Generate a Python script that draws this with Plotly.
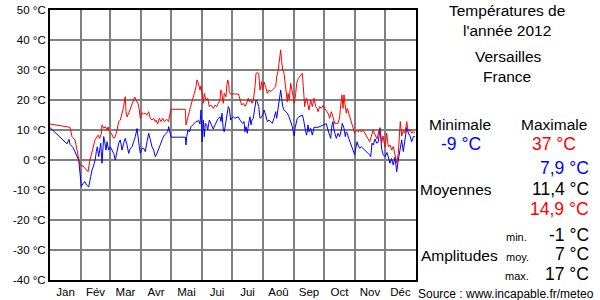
import plotly.graph_objects as go
import pandas as pd

# ---- data (day offset from 1 Jan 2012, temperature °C) ----
min_days = [0, 17, 19, 20, 23, 26, 28.7, 30, 31.3, 33, 35, 36.5, 38.7, 40.7, 42, 43.5, 45.3, 46.3, 47.3, 48.7,
            49.7, 50.7, 52, 53, 53.7, 54.7, 56, 57, 58.7, 60.3, 62, 63.7, 65.3, 67, 68.7, 70.3, 72, 73.7, 75.3, 77,
            78.7, 80.3, 82, 83.7, 85.3, 87, 88, 89.3, 90.3, 92, 93.7, 95.3, 97, 98.7, 100.3, 102, 103.7, 105.3, 107,
            109.3, 111, 112.7, 114.3, 116, 117.7, 118.7, 119.3, 121, 135.3, 136, 136.7, 138, 139.3, 141, 144.3, 146,
            148.7, 150, 151, 152, 152.7, 153.3, 154.3, 155.3, 156.7, 157.7, 159.3, 161, 163.3, 165, 166.7, 168.3,
            170, 171, 172, 173.3, 174.3, 175.3, 176.7, 178.3, 179.3, 180.7, 181.7, 183.3, 185, 186.7, 188.3, 190,
            191.7, 192.7, 194, 195, 196, 197.3, 198.7, 200, 201, 202, 203.3, 204.3, 206, 207.3, 208.7, 210, 211.7,
            213.3, 214, 215.7, 217.3, 219, 220.7, 222.3, 224, 225.7, 226.7, 228, 229, 230, 230.7, 231.7, 232.7, 234,
            235.7, 237.3, 239, 240.7, 242.3, 243.3, 244.3, 245, 246, 247.3, 249, 250.7, 252.3, 253.3, 254.3, 255.7,
            256.7, 258, 259, 260.7, 262.3, 264, 268, 271.3, 274.7, 276.3, 278, 279.7, 280.7, 282, 283, 284, 285.3,
            286.3, 288, 289.7, 291.3, 292.3, 294, 295.3, 296.3, 297.3, 298.7, 300.7, 303, 304.7, 305.7, 307, 308,
            309.7, 311.3, 313, 314.7, 316.3, 319.7, 320.7, 322, 323.3, 325, 326.7, 328.3, 330, 331.7, 333.3, 335,
            337, 338.5, 340, 341.5, 343.3, 345, 346.7, 348.3, 350, 351.7, 353.3, 355, 356.7, 358.3, 360, 361.7,
            363.3, 365]
min_vals = [10.8, 5.4, 6.9, 5.2, 4.2, 2.2, 0, -4.4, -8.9, -7.8, -7.2, -8.3, -9, -5.6, -3.3, -2, 0.2, 2.8, 4.4, 1.1,
            4.2, 5.6, -1.1, 2.8, 7.8, 6.1, 3.3, 6.1, 3.3, 4.4, 3.3, 2.2, 0, 3.3, 5.6, 6.7, 3.3, 5.6, 7.2, 5,
            2.2, 3.9, 4.4, 6.1, 7.8, 10.5, 6.7, 4.4, 2.2, 3.9, 3.9, 2.8, 6.1, 8.9, 6.7, 4.4, 3.3, 1.1, 2.2,
            4.4, 5.5, 7.2, 8.3, 8.9, 9.4, 11.1, 10, 7.6, 7.6, 5, 7.8, 10, 9.4, 11.1, 12.2, 12.8,
            13.1, 12, 16.7, 6, 9, 13.3, 7.8, 12.2, 11.7, 10, 13.3, 12.2, 10.3, 11.7, 12.8, 13.9,
            14.4, 12.8, 15.6, 10, 9.4, 11.7, 14.4, 17.8, 17.2, 13.3, 13.9, 14.4, 13.9, 14.2, 14.4, 13.3,
            12.8, 12.2, 12.8, 9.4, 11.1, 8.9, 12.2, 14.4, 11.7, 13.3, 13.9, 16.7, 20, 19.4, 17.8, 13.9, 14.4,
            15.6, 16.7, 15, 12.8, 13.3, 12.8, 12.2, 13.9, 16.1, 13.9, 16.7, 19.4, 20.6, 23.3, 20.6, 17.8, 16.7,
            16.1, 15.6, 14.4, 12.8, 11.1, 9.4, 8, 10.6, 11.7, 13.9, 14.4, 14.7, 15, 13.9, 11.7, 9.4,
            8.3, 11.7, 9.4, 10.6, 8.3, 10.9, 10.9, 11.3, 11.7, 12.1, 10, 7.8, 7.2, 11.7, 12.8, 10, 7.7,
            7.2, 8.9, 7.8, 10, 12.2, 10.6, 7.8, 9.4, 8.9, 7.2, 5.6, 3.3, 1.7, 4.4, 6.1, 5,
            3.9, 4.4, 3.9, 3.3, 2.8, 1.7, 1.1, 5.6, 5, 7, 5.6, 6.1, 10.5, 3.6, 1.7, 1.1,
            2.5, 0.5, -1.1, 0.5, -1.7, 1, -3.9, 0, 3.3, 6.7, 2.8, 7.8, 10.8, 9, 8, 6.1,
            7.8, 7.8]

max_days = [0, 12, 20, 22, 25, 27, 28.5, 30, 33, 38, 39.7, 41.3, 43.3, 45, 48, 49.7, 51.3, 52, 53.7, 55.3, 57, 58,
            59.3, 61.3, 63.7, 65.3, 67, 68.7, 70.3, 71.3, 72.7, 73.7, 74.7, 75.3, 76, 77, 78.7, 80.3, 82, 83.7,
            84.7, 86, 88, 89.3, 90.3, 92, 93.7, 95.3, 97, 98.7, 100.3, 102, 103.7, 105.3, 106, 107.7, 109.3, 111,
            112.7, 114.3, 116.7, 118.7, 119.3, 121, 135.3, 136, 137.7, 139.3, 141, 142.7, 144.3, 146, 147, 148.3,
            150, 151, 152, 153.3, 154.3, 156, 157.7, 159.3, 161, 163.3, 165, 166.7, 168.3, 170, 170.7, 171.7, 172.7,
            173.3, 174.3, 176, 176.7, 177.7, 178.7, 179.3, 180.7, 188.3, 189.3, 190.7, 191.7, 193.3, 195, 196.7,
            198.3, 199.3, 200.7, 202, 203.3, 205, 206, 207.3, 208.7, 210, 211.7, 212.7, 214, 215.7, 217.3, 219,
            220.7, 222.3, 224, 225.7, 226.7, 228, 229, 230, 230.7, 231.7, 232.7, 234, 235, 236, 237.3, 238, 239.3,
            240.7, 241.7, 243.3, 244.3, 245.7, 246.7, 248.3, 250.7, 252.3, 253.3, 254.7, 255.7, 256.7, 258, 259,
            260.7, 262.3, 264, 265.7, 267.3, 268, 269.7, 271.3, 273, 274.7, 276.3, 278, 279.7, 281.3, 283, 284.7,
            288, 289.7, 290.7, 292, 293, 294, 294.7, 296.3, 297.3, 298.7, 300, 301.3, 303, 304.7, 306.3, 308,
            309.7, 311.3, 313, 314.7, 316.3, 318, 319.7, 321.3, 323, 325, 327, 328.3, 330, 331.7, 333, 335, 336.7,
            338.3, 340, 341.7, 343.3, 345, 346.7, 348.3, 349.3, 350.3, 351.7, 353.3, 355, 356.7, 358.3, 360, 361.7,
            363.3, 365]
max_vals = [12, 11.3, 10.9, 7.8, 6.7, 3.3, 0, -1.7, -2, -3.9, -0.4, 1.8, 4.4, 6.7, 8.3, 7.2, 8.9, 11.7, 10.6, 11.1, 10, 11,
            9.4, 8.9, 7.2, 7.8, 10, 12.8, 13.3, 14.4, 16.7, 17.8, 20.6, 21.1, 16.1, 14.4, 15.6, 17.2, 18.9, 20.6,
            21, 20, 18.9, 16.7, 13.9, 15.8, 15.3, 15.6, 15, 16.1, 13.9, 13.3, 13.9, 12.8, 13.3, 12, 13.9, 12.8,
            13.9, 12.8, 13.6, 12.8, 14.4, 16.9, 16.9, 11.7, 14.4, 16.1, 18.3, 20, 22.2, 24.4, 26.7, 25.6,
            23.3, 24.7, 21.7, 18.9, 22.2, 20, 20.6, 17.8, 18.3, 17.2, 18.3, 17.8, 18.9, 20, 23.3, 22.8, 20,
            18.9, 22.2, 21.1, 24.4, 26.7, 25.6, 22.8, 22, 22, 21.1, 19.4, 18.3, 18.9, 17.9, 19,
            20.6, 19.4, 20.2, 18.9, 20, 24.4, 28.9, 29.1, 28.9, 23.3, 26.1, 23.3, 26, 24.4, 22.2, 23.3,
            22.8, 23.3, 23.9, 24.4, 27.8, 29.4, 32.2, 35.6, 36.7, 32.8, 30, 28.9, 25.6, 23.3, 19.4, 22.2, 20,
            25.6, 23.3, 21.1, 18.9, 22.2, 25.6, 27.2, 28.3, 28.9, 24.4, 17.8, 20, 20.6, 18.3, 16.7,
            20, 17.8, 20.6, 17.8, 17.2, 16.1, 17.8, 17.2, 18.1, 17.2, 16.1, 15.6, 13.9, 16.1, 14.4, 12.2,
            12.2, 14.4, 18.3, 21.7, 17.2, 21.7, 19.4, 15.6, 17.2, 15.6, 13.9, 12.8, 10.5, 8.9, 10, 9.4,
            9.8, 9.4, 10, 8.9, 8.3, 7.2, 6.1, 7.8, 9.9, 8.5, 7, 9, 10.8, 5.7, 8, 4.4, 8.9,
            4.4, 5, 3.3, 4.5, 1.7, -1.1, 2.2, 6.7, 12.8, 8, 10, 9, 12.8, 9.5, 10.2, 9,
            9.4, 9]

month_labels = ["Jan", "Fév", "Mar", "Avr", "Mai", "Jui", "Jui", "Aoû", "Sep", "Oct", "Nov", "Déc"]
y_tick_values = [-40, -30, -20, -10, 0, 10, 20, 30, 40, 50]
y_tick_labels = [f"{v} °C" for v in y_tick_values]

# ---- build ----
start = pd.Timestamp("2012-01-01")
end = pd.Timestamp("2013-01-01")


def to_dates(days):
    return [start + pd.Timedelta(days=d) for d in days]


month_starts = list(pd.date_range(start, end, freq="MS"))
month_mids = [month_starts[i] + (month_starts[i + 1] - month_starts[i]) / 2 for i in range(12)]

FONT = "Liberation Sans, Arial, sans-serif"
W, H = 600, 300
L, R, T, B = 50, 416, 10, 280

fig = go.Figure()
fig.add_trace(go.Scatter(x=to_dates(min_days), y=min_vals, mode="lines",
                         line=dict(color="#0000FF", width=1), hoverinfo="skip"))
fig.add_trace(go.Scatter(x=to_dates(max_days), y=max_vals, mode="lines",
                         line=dict(color="#FF0000", width=1), hoverinfo="skip"))

fig.update_layout(
    width=W, height=H, autosize=False,
    margin=dict(l=L, r=W - R, t=T, b=H - B, pad=0, autoexpand=False),
    paper_bgcolor="white", plot_bgcolor="white",
    showlegend=False,
    font=dict(family=FONT, color="black"),
    xaxis=dict(
        type="date", range=[start, end], automargin=False,
        tickmode="array", tickvals=month_mids, ticktext=month_labels,
        showgrid=False, ticks="", tickfont=dict(size=11.5, family=FONT, color="black"),
        minor=dict(tickmode="array", tickvals=month_starts[1:-1], showgrid=True,
                   gridcolor="#808080", gridwidth=2, ticks=""),
        showline=True, linecolor="black", linewidth=2, mirror=True, zeroline=False,
        fixedrange=True,
    ),
    yaxis=dict(
        range=[-40, 50], automargin=False,
        tickmode="array", tickvals=y_tick_values, ticktext=y_tick_labels,
        showgrid=True, gridcolor="#808080", gridwidth=2, ticks="",
        tickfont=dict(size=11.5, family=FONT, color="black"),
        showline=True, linecolor="black", linewidth=2, mirror=True, zeroline=False,
        fixedrange=True,
    ),
)


def px(xp):
    return (xp - L) / (R - L)


def py(yp):
    return (B - yp) / (B - T)


def txt(text, x, y, size=15.5, color="black", anchor="center"):
    fig.add_annotation(text=text, x=px(x), y=py(y), xref="paper", yref="paper",
                       xanchor=anchor, yanchor="middle", showarrow=False,
                       font=dict(family=FONT, size=size, color=color))


txt("Températures de", 507, 10)
txt("l'année 2012", 507, 30)
txt("Versailles", 508, 56.5)
txt("France", 507, 76.5)
txt("Minimale", 460, 124.5)
txt("Maximale", 554, 124.5)
txt("-9 °C", 461, 144, size=17.5, color="#0000FF")
txt("37 °C", 554, 144, size=17.5, color="#FF0000")
txt("7,9 °C", 591, 168, size=17.5, color="#0000FF", anchor="right")
txt("Moyennes", 456, 189)
txt("11,4 °C", 591, 189, size=17.5, anchor="right")
txt("14,9 °C", 591, 208.5, size=17.5, color="#FF0000", anchor="right")
txt("min.", 516.5, 236.5, size=11)
txt("-1 °C", 591, 234.5, size=17.5, anchor="right")
txt("Amplitudes", 459.5, 255)
txt("moy.", 517, 256.5, size=11)
txt("7 °C", 591, 254, size=17.5, anchor="right")
txt("max.", 517, 276, size=11)
txt("17 °C", 591, 274, size=17.5, anchor="right")
txt("Source : www.incapable.fr/meteo", 596, 294, size=12, anchor="right")

fig.write_html("out.html", config={"displayModeBar": False},
               post_script="document.body.style.margin='0';document.body.style.overflow='hidden';")
